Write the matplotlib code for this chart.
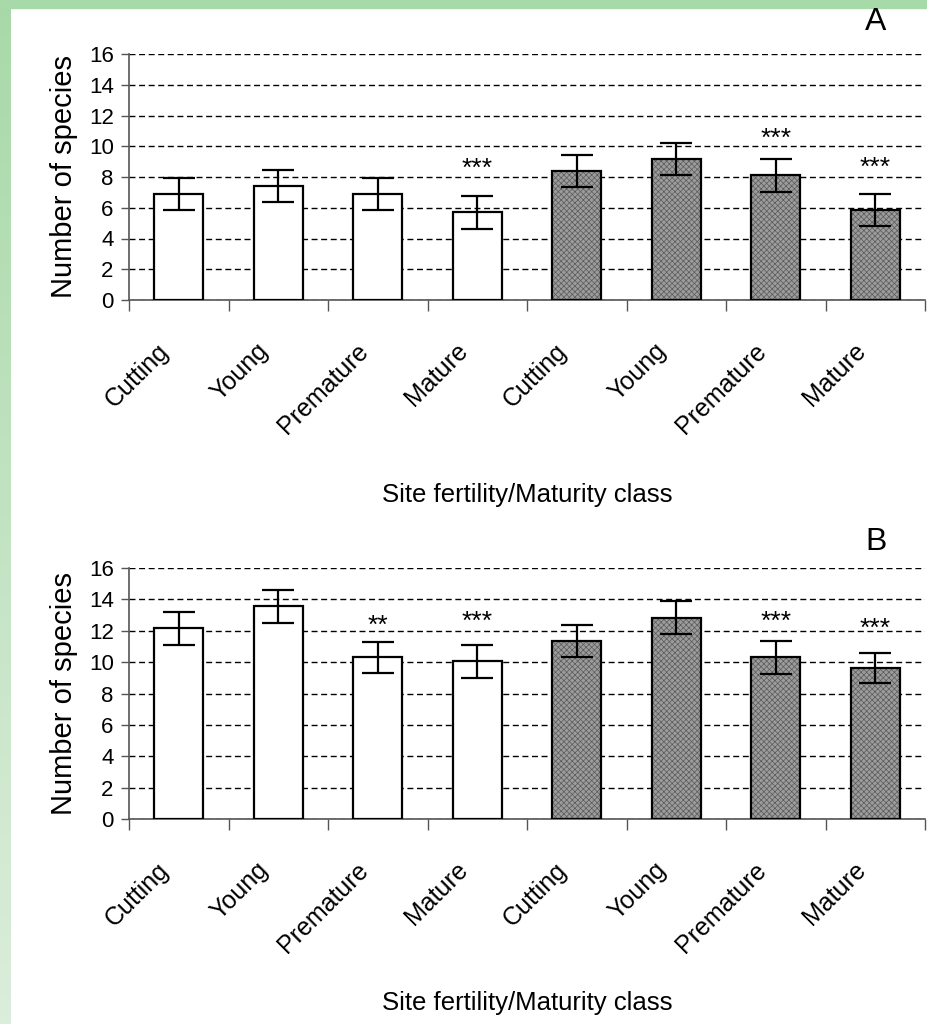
import matplotlib
matplotlib.use("Agg")
import matplotlib.pyplot as plt
import matplotlib.transforms as mtransforms
import numpy as np

plt.rcParams['font.family'] = ['Liberation Sans', 'DejaVu Sans']
plt.rcParams['hatch.linewidth'] = 0.5

# data
categories = ["Cutting", "Young", "Premature", "Mature",
              "Cutting", "Young", "Premature", "Mature"]
dark = [False, False, False, False, True, True, True, True]

means_a = [6.9, 7.4, 6.9, 5.7, 8.4, 9.15, 8.1, 5.85]
err_a = [1.05, 1.05, 1.05, 1.05, 1.05, 1.05, 1.05, 1.05]
stars_a = ["", "", "", "***", "", "", "***", "***"]
star_y_a = [0, 0, 0, 9.0, 0, 0, 11.0, 9.1]

means_b = [12.15, 13.57, 10.3, 10.05, 11.35, 12.83, 10.3, 9.6]
err_b = [1.05, 1.05, 1.0, 1.05, 1.0, 1.05, 1.05, 0.95]
stars_b = ["", "", "**", "***", "", "", "***", "***"]
star_y_b = [0, 0, 12.8, 13.05, 0, 0, 13.05, 12.6]

panels = [("A", means_a, err_a, stars_a, star_y_a),
          ("B", means_b, err_b, stars_b, star_y_b)]

fig = plt.figure(figsize=(9.27, 10.24), dpi=100)

# green frame: top strip and fading left strip
bg = fig.add_axes([0, 0, 1, 1], zorder=-10)
bg.set_xlim(0, 927)
bg.set_ylim(1024, 0)
bg.axis("off")
grad = np.linspace(0, 1, 256)[:, None]
top_c = np.array([0.66, 0.85, 0.66])
bot_c = np.array([0.86, 0.93, 0.86])
img = top_c + (bot_c - top_c) * grad[..., None]
bg.imshow(img, extent=[0, 11, 1024, 0], aspect="auto")
bg.add_patch(plt.Rectangle((0, 0), 927, 8, color=top_c))

boxes = [[129 / 927, 1 - 300 / 1024, 796 / 927, 246 / 1024],
         [129 / 927, 1 - 819 / 1024, 796 / 927, 251 / 1024]]
label_y = [495, 1003]
letter_y = [22, 542]

x = np.arange(len(categories))
shift = mtransforms.ScaledTranslation(-22 / 100, 0, fig.dpi_scale_trans)
for (name, means, errs, stars, star_y), box, ly, ty in zip(panels, boxes, label_y, letter_y):
    ax = fig.add_axes(box)
    for i in x:
        if dark[i]:
            ax.bar(i, means[i], width=0.49, color="#9c9c9c", edgecolor="#5a5a5a",
                   hatch="xxxxxx", linewidth=0, zorder=3)
            ax.bar(i, means[i], width=0.49, color="none", edgecolor="black",
                   linewidth=1.6, zorder=4)
        else:
            ax.bar(i, means[i], width=0.49, color="white", edgecolor="black",
                   linewidth=1.6, zorder=3)
    ax.errorbar(x, means, yerr=errs, fmt="none", ecolor="black",
                elinewidth=1.6, capsize=11.5, capthick=1.6, zorder=5)
    for i in x:
        if stars[i]:
            ax.annotate(stars[i], (i, star_y[i]), xytext=(0, -10.5),
                        textcoords="offset points", ha="center", va="baseline",
                        fontsize=19, zorder=6)

    ax.set_xlim(-0.5, len(categories) - 0.5)
    ax.set_ylim(0, 16)
    ax.set_yticks(np.arange(0, 17, 2))
    ax.tick_params(axis="y", labelsize=16, length=6, width=1, color="#555555", pad=5)
    ax.yaxis.grid(True, linestyle=(0, (4.3, 2.6)), color="black", linewidth=1.0)
    ax.set_axisbelow(True)
    ax.set_xticks(x)
    ax.tick_params(axis="x", length=0, pad=28)
    ax.set_xticks(np.arange(-0.5, len(categories)), minor=True)
    ax.tick_params(axis="x", which="minor", length=8, width=1, color="#555555")
    ax.set_xticklabels(categories, rotation=45, ha="right", va="top",
                       rotation_mode="anchor", fontsize=18)
    # nudge the slanted labels left so they end under the bar
    for lab in ax.get_xticklabels():
        lab.set_transform(lab.get_transform() + shift)
    for s in ["top", "right"]:
        ax.spines[s].set_visible(False)
    ax.spines["left"].set_color("#555555")
    ax.spines["bottom"].set_color("#555555")
    ax.spines["left"].set_linewidth(1.2)
    ax.spines["bottom"].set_linewidth(1.2)
    ax.set_ylabel("Number of species", fontsize=21, labelpad=8)

    fig.text(527 / 927, 1 - ly / 1024, "Site fertility/Maturity class",
             ha="center", va="center", fontsize=18.5)
    fig.text(876 / 927, 1 - ty / 1024, name, ha="center", va="center", fontsize=23)

fig.savefig("out.png", dpi=100, facecolor="white")
